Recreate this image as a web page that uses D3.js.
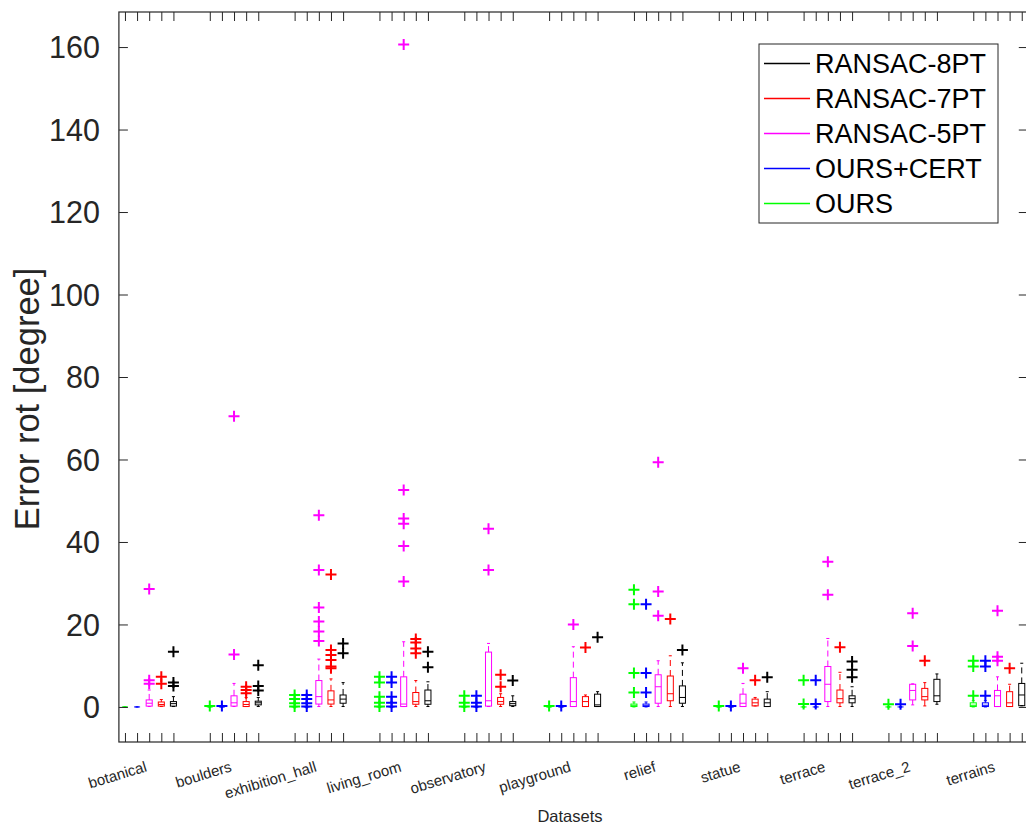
<!DOCTYPE html>
<html>
<head>
<meta charset="utf-8">
<script src="https://cdn.jsdelivr.net/npm/d3@7"></script>
<style>
  html, body { margin: 0; padding: 0; background: #fff; }
  svg { display: block; font-family: "Liberation Sans", Arial, sans-serif; }
</style>
</head>
<body>
<svg id="chart" width="1026" height="831"></svg>
<script>
// Datasets (x groups) and methods (one box per method inside each group)
const datasets = ["botanical", "boulders", "exhibition_hall", "living_room", "observatory",
  "playground", "relief", "statue", "terrace", "terrace_2", "terrains"];
const methods = ["OURS", "OURS+CERT", "RANSAC-5PT", "RANSAC-7PT", "RANSAC-8PT"];
const yTickValues = [0, 20, 40, 60, 80, 100, 120, 140, 160];

// Box statistics per dataset: [lower whisker, q1, median, q3, upper whisker]
const statsOurs = [
  [0, 0, 0, 0, 0], [0, 0, 0, 0, 0], [0, 0, 0, 0, 0], [0, 0, 0, 0, 0], [0, 0, 0, 0, 0],
  [0, 0, 0, 0, 0], [0, 0.1, 0.3, 0.7, 1.2], [0, 0, 0, 0, 0], [0, 0, 0, 0, 0], [0, 0, 0, 0, 0],
  [0, 0.1, 0.4, 1.0, 1.5]
];
const statsOursCert = [
  [0, 0, 0, 0, 0], [0, 0, 0, 0, 0], [0, 0, 0, 0, 0], [0, 0, 0, 0, 0], [0, 0, 0, 0, 0],
  [0, 0, 0, 0, 0], [0, 0.1, 0.3, 0.7, 1.2], [0, 0, 0, 0, 0], [0, 0, 0, 0, 0], [0, 0, 0, 0, 0],
  [0, 0.1, 0.4, 1.0, 1.5]
];
const statsRansac5 = [
  [0.1, 0.2, 0.9, 1.7, 4.1], [0.1, 0.2, 1.0, 2.7, 5.7], [0.1, 0.7, 2.5, 6.4, 11.6],
  [0.1, 0.1, 0.7, 7.3, 15.8], [0.1, 0.2, 1.5, 13.3, 15.4], [0.1, 0.1, 1.3, 7.1, 14.6],
  [0.1, 0.9, 4.9, 7.8, 11.2], [0.1, 0.1, 0.9, 3.1, 5.7], [0.1, 1.3, 5.5, 9.8, 16.6],
  [0.5, 1.7, 4.0, 5.5, 5.6], [0.1, 0.1, 2.7, 4.0, 7.3]
];
const statsRansac7 = [
  [0.1, 0.2, 0.6, 1.2, 1.8], [0.1, 0.1, 0.6, 1.3, 2.3], [0.1, 0.7, 1.7, 3.9, 6.8],
  [0.1, 0.65, 1.3, 3.5, 6.4], [0.1, 0.65, 1.3, 2.3, 3.2], [0.1, 0.1, 1.3, 2.5, 2.9],
  [0.1, 1.5, 3.2, 7.5, 12.4], [0.25, 0.25, 1.0, 1.9, 2.3], [0.1, 1.0, 2.0, 4.1, 8.4],
  [0.25, 1.7, 2.5, 4.5, 5.9], [0.1, 0.1, 1.0, 3.7, 5.5]
];
const statsRansac8 = [
  [0.1, 0.2, 0.8, 1.3, 2.5], [0.1, 0.5, 1.0, 1.4, 2.3], [0.1, 0.9, 1.9, 2.9, 5.9],
  [0.1, 0.65, 1.5, 4.1, 6.1], [0.1, 0.3, 0.8, 1.3, 2.7], [0.1, 0.1, 0.5, 3.1, 3.7],
  [0.1, 0.9, 2.3, 5.1, 10.7], [0.1, 0.1, 1.0, 1.9, 3.7], [0.1, 1.0, 2.0, 2.7, 4.9],
  [0.65, 1.3, 2.7, 6.7, 8.0], [0.3, 0.3, 2.9, 5.7, 10.6]
];

// Outliers per dataset
const outliersOurs = [
  [], [0.25], [0.1, 0.9, 1.9, 2.9], [0.1, 1.0, 2.5, 5.9, 7.3], [0.1, 1.0, 2.7],
  [0.25], [3.5, 8.2, 24.9, 28.4], [0.25], [0.7, 6.5], [0.65], [2.7, 9.8, 11.2]
];
const outliersOursCert = [
  [], [0.25], [0.1, 0.9, 1.9, 2.9], [0.1, 1.0, 2.5, 5.9, 7.3], [0.1, 1.0, 2.7],
  [0.25], [3.5, 8.2, 24.9], [0.25], [0.7, 6.5], [0.65], [2.7, 9.8, 11.2]
];
const outliersRansac5 = [
  [5.6, 6.5, 28.6], [12.7, 70.5], [16.0, 18.3, 20.7, 24.1, 33.2, 46.5],
  [30.4, 39.0, 44.4, 45.7, 52.6, 160.6], [33.2, 43.2], [20.0], [22.1, 28.0, 59.3],
  [9.4], [27.2, 35.2], [14.8, 22.7], [11.2, 12.2, 23.3]
];
const outliersRansac7 = [
  [5.6, 7.3], [3.3, 4.1, 4.9], [9.4, 9.8, 11.4, 12.6, 13.8, 32.1], [13.0, 14.2, 15.6, 16.5],
  [4.9, 7.8], [14.4], [21.3], [6.5], [14.5], [11.2], [9.4]
];
const outliersRansac8 = [
  [5.1, 5.9, 13.4], [4.0, 5.1, 10.1], [13.0, 15.4], [9.6, 13.4], [6.4], [16.9],
  [13.8], [7.2], [7.2, 9.0, 11.0], [], []
];

const seriesStats = [statsOurs, statsOursCert, statsRansac5, statsRansac7, statsRansac8];
const seriesOutliers = [outliersOurs, outliersOursCert, outliersRansac5, outliersRansac7, outliersRansac8];
const seriesColors = ["#00ff00", "#0000ff", "#ff00ff", "#ff0000", "#000000"];

// Layout
const W = 1026, H = 831;
const plot = { left: 118.9, right: 1027.8, top: 12, bottom: 742 };
const axisColor = "#262626";
const groupStride = methods.length + 2;

const svg = d3.select("#chart");
svg.append("rect").attr("width", W).attr("height", H).attr("fill", "#fff");

const x = d3.scaleLinear().domain([0.5, 75.5]).range([plot.left, plot.right]);
const y = d3.scaleLinear().domain([-8.5, 168.5]).range([plot.bottom, plot.top]);

const posOf = (g, m) => g * groupStride + m + 1;
const allPositions = [];
datasets.forEach((d, g) => methods.forEach((mm, m) => allPositions.push(posOf(g, m))));
const labelAt = new Map(datasets.map((d, g) => [posOf(g, 2), d]));

// Boxes
const boxHalf = x(1.25) - x(1);
const capHalf = boxHalf / 2;
const plotG = svg.append("g");

methods.forEach((name, m) => {
  const color = seriesColors[m];
  const g = plotG.append("g").attr("class", "series");
  seriesStats[m].forEach((s, gi) => {
    const cx = x(posOf(gi, m));
    const [lo, q1, med, q3, hi] = s;
    // dashed whiskers
    g.append("line").attr("x1", cx).attr("x2", cx).attr("y1", y(q3)).attr("y2", y(hi))
      .attr("stroke", color).attr("stroke-width", 1).attr("stroke-dasharray", "6,4");
    g.append("line").attr("x1", cx).attr("x2", cx).attr("y1", y(q1)).attr("y2", y(lo))
      .attr("stroke", color).attr("stroke-width", 1).attr("stroke-dasharray", "6,4");
    // whisker caps
    [lo, hi].forEach(v => g.append("line")
      .attr("x1", cx - capHalf).attr("x2", cx + capHalf).attr("y1", y(v)).attr("y2", y(v))
      .attr("stroke", color).attr("stroke-width", 1));
    // box
    g.append("rect").attr("x", cx - boxHalf).attr("width", boxHalf * 2)
      .attr("y", y(q3)).attr("height", Math.max(0, y(q1) - y(q3)))
      .attr("fill", "none").attr("stroke", color).attr("stroke-width", 1);
    // median
    g.append("line").attr("x1", cx - boxHalf).attr("x2", cx + boxHalf)
      .attr("y1", y(med)).attr("y2", y(med)).attr("stroke", color).attr("stroke-width", 1);
  });
  // outliers as '+'
  const pts = [];
  seriesOutliers[m].forEach((arr, gi) => arr.forEach(v => pts.push([posOf(gi, m), v])));
  const r = 5.5;
  g.selectAll("path.outlier").data(pts).join("path")
    .attr("class", "outlier")
    .attr("d", d => {
      const px = x(d[0]), py = y(d[1]);
      return `M${px - r},${py}H${px + r}M${px},${py - r}V${py + r}`;
    })
    .attr("stroke", color).attr("stroke-width", 2).attr("fill", "none");
});

// Axes (inward ticks on all four sides)
const xAxisBottom = d3.axisBottom(x).tickValues(allPositions).tickSize(-9).tickSizeOuter(0)
  .tickFormat(p => labelAt.get(p) || "");
const gxb = svg.append("g").attr("transform", `translate(0,${plot.bottom})`).call(xAxisBottom);
gxb.selectAll("text")
  .attr("y", null).attr("dy", null)
  .attr("text-anchor", "end")
  .attr("transform", "translate(-2,29) rotate(-17)")
  .attr("font-size", "15px")
  .attr("fill", axisColor);

const xAxisTop = d3.axisTop(x).tickValues(allPositions).tickSize(-9).tickSizeOuter(0).tickFormat("");
svg.append("g").attr("transform", `translate(0,${plot.top})`).call(xAxisTop);

const yAxisLeft = d3.axisLeft(y).tickValues(yTickValues).tickSize(-9).tickSizeOuter(0).tickPadding(19);
const gyl = svg.append("g").attr("transform", `translate(${plot.left},0)`).call(yAxisLeft);
gyl.selectAll("text").attr("font-size", "30.5px").attr("dy", "0.35em").attr("fill", axisColor);

const yAxisRight = d3.axisRight(y).tickValues(yTickValues).tickSize(-9).tickSizeOuter(0).tickFormat("");
svg.append("g").attr("transform", `translate(${plot.right},0)`).call(yAxisRight);

svg.selectAll(".domain").remove();
svg.selectAll(".tick line").attr("stroke", axisColor).attr("stroke-width", 1);
svg.selectAll(".tick text").attr("font-family", "Liberation Sans, Arial, sans-serif");

// Frame
svg.append("rect")
  .attr("x", plot.left).attr("y", plot.top)
  .attr("width", plot.right - plot.left).attr("height", plot.bottom - plot.top)
  .attr("fill", "none").attr("stroke", axisColor).attr("stroke-width", 1.2);

// Axis titles
svg.append("text").attr("x", 570).attr("y", 818)
  .attr("text-anchor", "middle").attr("dominant-baseline", "middle")
  .attr("font-size", "16.5px").attr("fill", axisColor).text("Datasets");

svg.append("text")
  .attr("transform", `translate(30,399) rotate(-90)`)
  .attr("text-anchor", "middle").attr("dominant-baseline", "middle")
  .attr("font-size", "34.5px").attr("fill", axisColor).text("Error rot [degree]");

// Legend (top entry is the last method)
const legend = svg.append("g");
legend.append("rect").attr("x", 759).attr("y", 44).attr("width", 239).attr("height", 179)
  .attr("fill", "#fff").attr("stroke", axisColor).attr("stroke-width", 1);
const legendOrder = d3.range(methods.length).reverse();
legendOrder.forEach((m, i) => {
  const ly = 63.5 + i * 35;
  legend.append("line").attr("x1", 764).attr("x2", 810).attr("y1", ly).attr("y2", ly)
    .attr("stroke", seriesColors[m]).attr("stroke-width", 1.3);
  legend.append("text").attr("x", 815).attr("y", ly).attr("dy", "0.36em")
    .attr("font-size", "27px").attr("fill", "#000").text(methods[m]);
});
</script>
</body>
</html>
